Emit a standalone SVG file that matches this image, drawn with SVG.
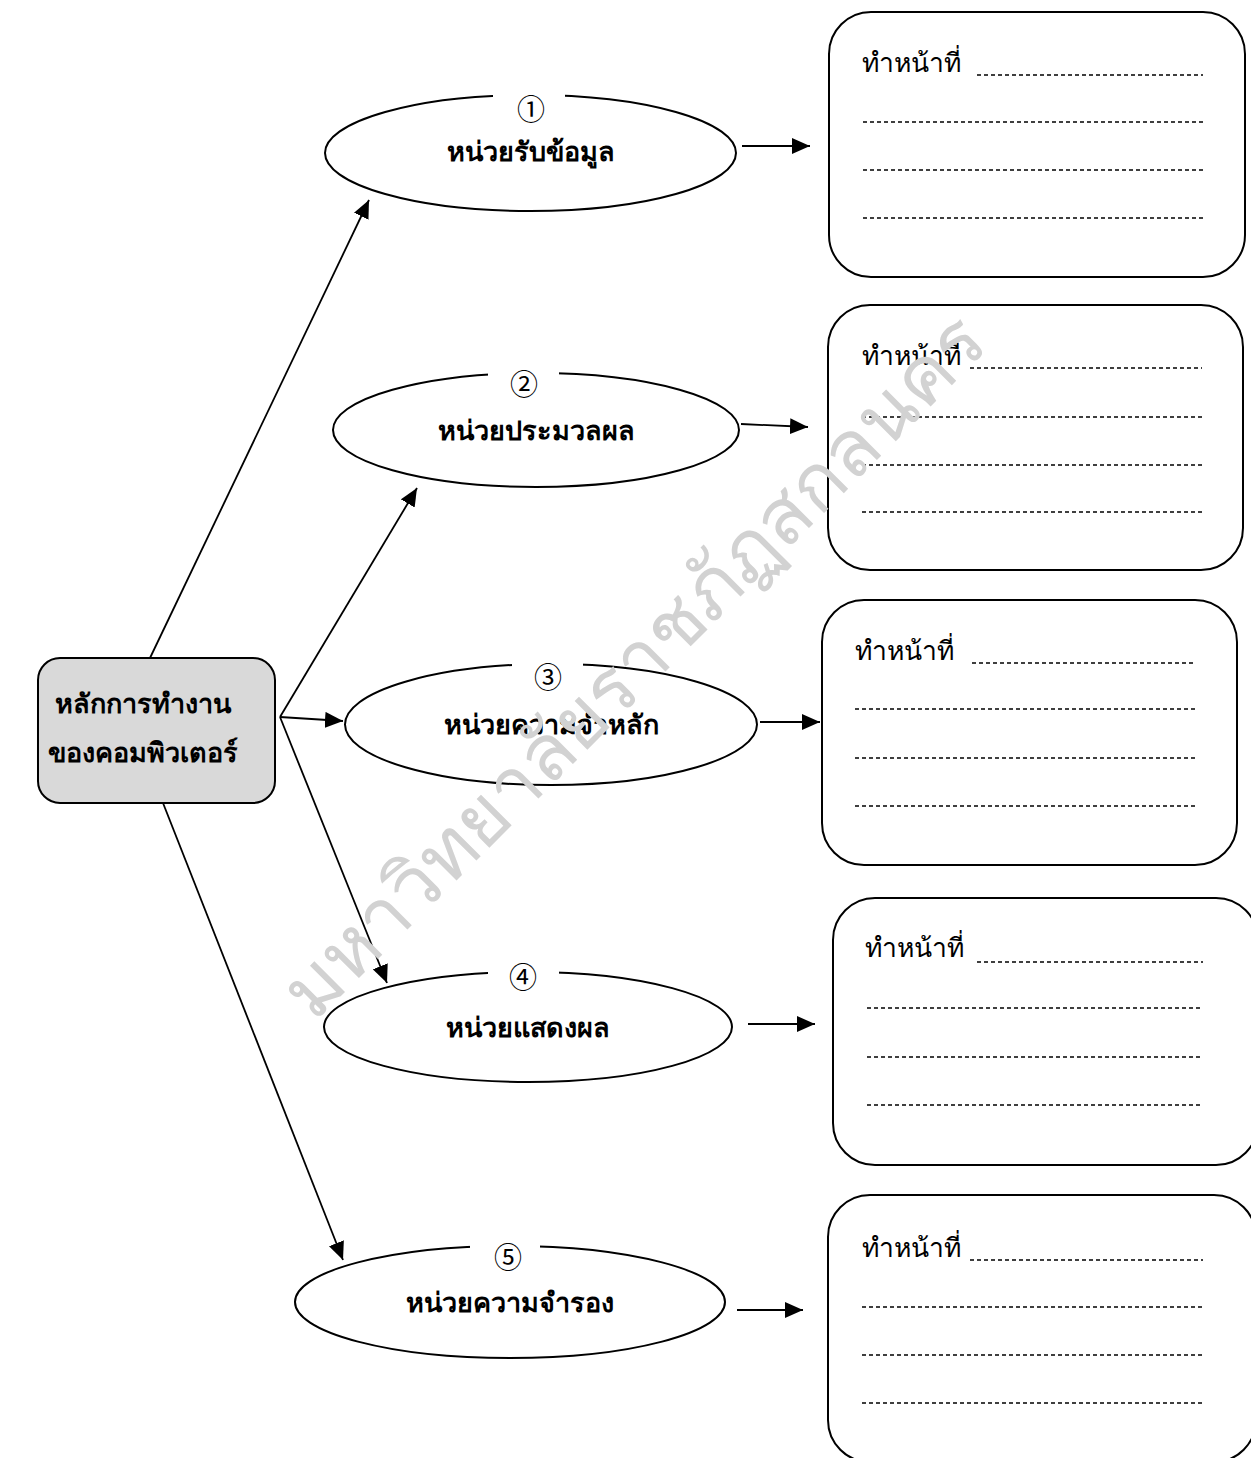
<svg xmlns="http://www.w3.org/2000/svg" width="1251" height="1458" viewBox="0 0 1251 1458">
<defs>
<marker id="ah" viewBox="0 0 18 16" refX="18" refY="8" markerWidth="18" markerHeight="16" markerUnits="userSpaceOnUse" orient="auto">
<path d="M0,0 L18,8 L0,16 z" fill="#000"/>
</marker>
<style>
.shape{fill:#fff;stroke:#000;stroke-width:2}
.core{fill:#d9d9d9;stroke:#000;stroke-width:2}
.lbl{font-family:"Noto Sans","DejaVu Sans",sans-serif;font-weight:bold;font-size:27px;text-anchor:middle;fill:#000}
.num{font-family:"Noto Sans CJK JP","DejaVu Sans",sans-serif;font-size:28px;text-anchor:middle;fill:#000}
.gap{fill:#fff;stroke:none}
.fn{font-family:"Noto Sans","DejaVu Sans",sans-serif;font-size:26.5px;fill:#000}
.dots{stroke:#000;stroke-width:1.5;stroke-dasharray:4 3;fill:none}
.conn line{stroke:#000;stroke-width:1.8;marker-end:url(#ah)}
.wm{font-family:"Noto Sans","DejaVu Sans",sans-serif;font-size:78px;fill:#d2d2d2;text-anchor:middle}
</style>
</defs>
<rect width="1251" height="1458" fill="#fff"/>

<g id="connectors" class="conn">
<line x1="150" y1="658" x2="369" y2="200"/>
<line x1="280" y1="717" x2="417" y2="488"/>
<line x1="280" y1="717" x2="343" y2="721"/>
<line x1="280" y1="717" x2="387" y2="983"/>
<line x1="163" y1="803" x2="343" y2="1260"/>
<line x1="742" y1="146" x2="810" y2="146"/>
<line x1="741" y1="424" x2="808" y2="427"/>
<line x1="760" y1="722" x2="820" y2="722"/>
<line x1="748" y1="1024" x2="815" y2="1024"/>
<line x1="737" y1="1310" x2="803" y2="1310"/>
</g>

<g id="center">
<rect class="core" x="38" y="658" width="237" height="145" rx="22"/>
<text class="lbl" x="143" y="713">หลักการทำงาน</text>
<text class="lbl" x="143" y="762">ของคอมพิวเตอร์</text>
</g>

<g id="unit1">
<ellipse class="shape" cx="530.5" cy="153" rx="205.5" ry="58"/>
<rect class="gap" x="493" y="90" width="72" height="10"/>
<text class="num" x="531" y="120">①</text>
<text class="lbl" x="530.5" y="161">หน่วยรับข้อมูล</text>
</g>

<g id="unit2">
<ellipse class="shape" cx="536" cy="430" rx="203" ry="57"/>
<rect class="gap" x="488" y="368" width="71" height="10"/>
<text class="num" x="524" y="395">②</text>
<text class="lbl" x="536" y="440">หน่วยประมวลผล</text>
</g>

<g id="unit3">
<ellipse class="shape" cx="551" cy="724.5" rx="206" ry="60.5"/>
<rect class="gap" x="512" y="659" width="71" height="10"/>
<text class="num" x="548" y="688">③</text>
<text class="lbl" x="551" y="734">หน่วยความจำหลัก</text>
</g>

<g id="unit4">
<ellipse class="shape" cx="528" cy="1027" rx="204" ry="55"/>
<rect class="gap" x="488" y="967" width="71" height="10"/>
<text class="num" x="523" y="988">④</text>
<text class="lbl" x="528" y="1037">หน่วยแสดงผล</text>
</g>

<g id="unit5">
<ellipse class="shape" cx="510" cy="1302" rx="215" ry="56"/>
<rect class="gap" x="470" y="1241" width="70" height="10"/>
<text class="num" x="508" y="1268">⑤</text>
<text class="lbl" x="510" y="1312">หน่วยความจำรอง</text>
</g>

<g id="box1">
<rect class="shape" x="829" y="12" width="416" height="265" rx="42"/>
<text class="fn" x="862" y="72">ทำหน้าที่</text>
<path class="dots" d="M977,75H1203M863,122H1203M863,170H1203M863,218H1203"/>
</g>

<g id="box2">
<rect class="shape" x="828" y="305" width="415" height="265" rx="42"/>
<text class="fn" x="862" y="365">ทำหน้าที่</text>
<path class="dots" d="M970,368H1202M862,417H1202M862,465H1202M862,512H1202"/>
</g>

<g id="box3">
<rect class="shape" x="822" y="600" width="415" height="265" rx="42"/>
<text class="fn" x="855" y="660">ทำหน้าที่</text>
<path class="dots" d="M972,663H1195M855,709H1195M855,758H1195M855,806H1195"/>
</g>

<g id="box4">
<rect class="shape" x="833" y="898" width="425" height="267" rx="42"/>
<text class="fn" x="865" y="957">ทำหน้าที่</text>
<path class="dots" d="M977,962H1203M867,1008H1203M867,1057H1203M867,1105H1203"/>
</g>

<g id="box5">
<rect class="shape" x="828" y="1195" width="428" height="267" rx="42"/>
<text class="fn" x="862" y="1257">ทำหน้าที่</text>
<path class="dots" d="M970,1260H1203M862,1307H1203M862,1355H1203M862,1403H1203"/>
</g>

<g id="watermark">
<text class="wm" transform="translate(635,668) rotate(-45)" y="24">มหาวิทยาลัยราชภัฏสกลนคร</text>
</g>
</svg>
